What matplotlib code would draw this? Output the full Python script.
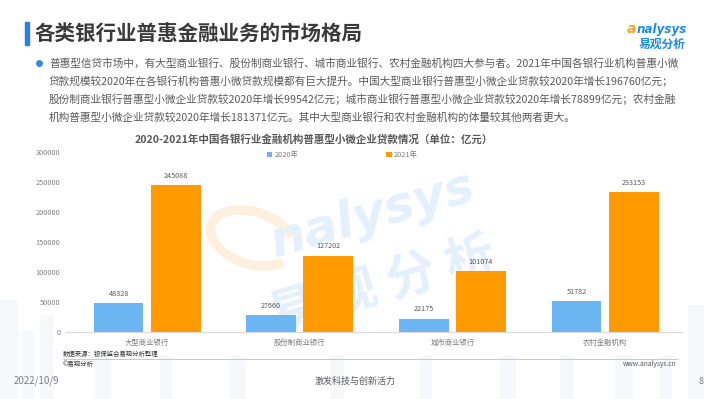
import matplotlib
matplotlib.use("Agg")
import matplotlib.pyplot as plt
import numpy as np
from matplotlib.patches import Rectangle, Arc

plt.rcParams['font.family'] = ['Noto Sans CJK SC', 'DejaVu Sans']

# data
categories = ["大型商业银行", "股份制商业银行", "城市商业银行", "农村金融机构"]
loans_2020 = [48328, 27660, 22175, 51782]
loans_2021 = [245088, 127202, 101074, 233153]
series_names = ["2020年", "2021年"]
yticks = [0, 50000, 100000, 150000, 200000, 250000, 300000]

title = "各类银行业普惠金融业务的市场格局"
chart_title = "2020-2021年中国各银行业金融机构普惠型小微企业贷款情况（单位：亿元）"
body_lines = [
    "普惠型信贷市场中，有大型商业银行、股份制商业银行、城市商业银行、农村金融机构四大参与者。2021年中国各银行业机构普惠小微",
    "贷款规模较2020年在各银行机构普惠小微贷款规模都有巨大提升。中国大型商业银行普惠型小微企业贷款较2020年增长196760亿元；",
    "股份制商业银行普惠型小微企业贷款较2020年增长99542亿元；城市商业银行普惠型小微企业贷款较2020年增长78899亿元；农村金融",
    "机构普惠型小微企业贷款较2020年增长181371亿元。其中大型商业银行和农村金融机构的体量较其他两者更大。",
]

blue = "#6cb5f3"
orange = "#ff9b00"
W, H = 710, 399

fig = plt.figure(figsize=(W / 100, H / 100), dpi=100)

# overlay in pixel coordinates for the page decoration
bg = fig.add_axes([0, 0, 1, 1], zorder=-1)
bg.set_xlim(0, W)
bg.set_ylim(H, 0)
bg.axis("off")

# faint skyline at the bottom of the page
for bx, bwid, btop in [(0, 18, 300), (22, 12, 330), (40, 14, 315), (95, 16, 320), (160, 12, 335),
                       (230, 16, 325), (330, 14, 318), (420, 12, 330), (500, 16, 310),
                       (560, 14, 325), (615, 18, 300), (660, 12, 320), (688, 16, 305)]:
    bg.add_patch(Rectangle((bx, btop), bwid, H - btop, color="#f6f8fb", lw=0))
bg.add_patch(Rectangle((64, 148), 620, 208, color="white", lw=0))

# title with blue marker
bg.add_patch(Rectangle((25, 22), 4, 23, color="#2f7de1"))
bg.text(35, 34, title, fontsize=14.8, fontweight="bold", color="#3a3a3a", va="center", ha="left")

# logo
bg.text(627, 29, "a", fontsize=10, color="#f5a623", style="italic", fontweight="bold", va="center", family="DejaVu Sans")
bg.text(637, 29, "nalysys", fontsize=8.6, color="#1d8be3", style="italic", fontweight="bold", va="center", family="DejaVu Sans")
bg.text(686, 44, "易观分析", fontsize=8.5, color="#1d8be3", fontweight="bold", va="center", ha="right")

# bullet text
bg.plot(39, 63, "o", color="#2f8be6", markersize=4)
for i, line in enumerate(body_lines):
    bg.text(49, 63 + i * 18.2, line, fontsize=7.7, color="#5a5a5a", va="center", ha="left")

# watermark
bg.add_patch(Arc((252, 238), 86, 52, angle=18, theta1=20, theta2=340, color="#fef0df", lw=7))
bg.text(372, 215, "nalysys", fontsize=36, color="#e4f1fc", style="italic", fontweight="bold",
        rotation=16, ha="center", va="center", family="DejaVu Sans")
bg.text(382, 286, "易 观 分 析", fontsize=36, color="#e4f1fc", fontweight="bold",
        rotation=16, ha="center", va="center")

# chart title
bg.text(135, 139, chart_title, fontsize=7.6, fontweight="bold", color="#595959", va="center", ha="left")

# source lines
bg.text(63, 354, "数据来源：银保监会易观分析整理", fontsize=4.6, color="#333333", va="center")
bg.plot([63, 678], [358.5, 358.5], color="#bfbfbf", lw=0.6)
bg.text(63, 364, "©易观分析", fontsize=4.6, color="#333333", va="center")
bg.text(676, 364, "www.analysys.cn", fontsize=4.8, color="#555555", va="center", ha="right")

# footer
bg.text(14, 381, "2022/10/9", fontsize=7, color="#7f7f7f", va="center")
bg.text(355, 381, "激发科技与创新活力", fontsize=6.5, color="#595959", va="center", ha="center")
bg.text(704, 381, "8", fontsize=6.5, color="#7f7f7f", va="center", ha="right")

# main chart
left, right, top, bottom = 66, 682, 152, 332
ax = fig.add_axes([left / W, 1 - bottom / H, (right - left) / W, (bottom - top) / H], zorder=1)
ax.set_facecolor("none")

x = np.arange(len(categories))
bw = 0.327
off = 0.187
b1 = ax.bar(x - off, loans_2020, bw, color=blue, label=series_names[0])
b2 = ax.bar(x + off, loans_2021, bw, color=orange, label=series_names[1])
for bars, vals in ((b1, loans_2020), (b2, loans_2021)):
    for rect, v in zip(bars, vals):
        ax.text(rect.get_x() + rect.get_width() / 2, v + 9000, str(v), ha="center", va="bottom",
                fontsize=5.2, color="#595959")

ax.set_xlim(-0.531, 3.504)
ax.set_ylim(0, 300000)
ax.set_yticks(yticks)
ax.set_yticklabels([str(t) for t in yticks])
ax.set_xticks(x)
ax.set_xticklabels(categories)
ax.tick_params(axis="both", length=0, labelsize=5.3, colors="#7f7f7f", pad=5)
ax.tick_params(axis="y", pad=4)
for s in ("top", "right", "left"):
    ax.spines[s].set_visible(False)
ax.spines["bottom"].set_color("#d9d9d9")
ax.spines["bottom"].set_linewidth(0.8)

leg = ax.legend(loc="center left", bbox_to_anchor=(0.326, 0.983), ncol=2, frameon=False,
                fontsize=5.3, handlelength=0.7, handleheight=0.7, columnspacing=12, handletextpad=0.3,
                borderpad=0, borderaxespad=0)
for t in leg.get_texts():
    t.set_color("#7f7f7f")

fig.savefig("out.png", dpi=100)
